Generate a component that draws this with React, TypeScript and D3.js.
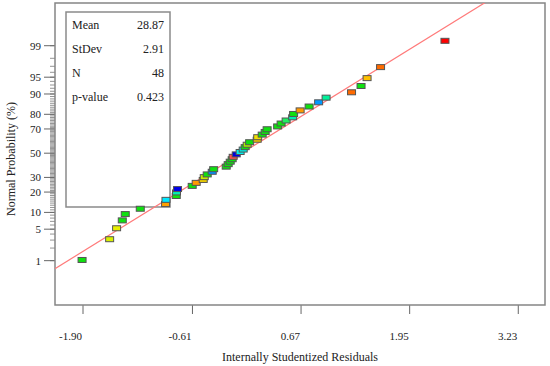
import React from "react";
import * as d3 from "d3";

// residuals (x) in rank order, with the plotted normal probability (%) for each
const residuals = [
  -1.911, -1.586, -1.504, -1.437, -1.402, -1.225, -0.927, -0.922, -0.801, -0.798,
  -0.786, -0.613, -0.566, -0.483, -0.471, -0.436, -0.377, -0.36, -0.212, -0.189,
  -0.165, -0.142, -0.13, -0.094, -0.048, -0.012, 0.011, 0.035, 0.064, 0.153,
  0.159, 0.212, 0.247, 0.27, 0.394, 0.435, 0.494, 0.571, 0.582, 0.659,
  0.765, 0.877, 0.965, 1.265, 1.377, 1.448, 1.607, 2.366,
];
const probabilities = [
  1.04, 3.13, 5.21, 7.29, 9.38, 11.46, 13.54, 15.63, 17.71, 19.79,
  21.88, 23.96, 26.04, 28.13, 30.21, 32.29, 34.38, 36.46, 38.54, 40.63,
  42.71, 44.79, 46.88, 48.96, 51.04, 53.13, 55.21, 57.29, 59.38, 61.46,
  63.54, 65.63, 67.71, 69.79, 71.88, 73.96, 76.04, 78.13, 80.21, 82.29,
  84.38, 86.46, 88.54, 90.63, 92.71, 94.79, 96.88, 99.25,
];
const pointColors = [
  "#10e010", "#d8f000", "#e8f000", "#10e010", "#10e010", "#10e010", "#ffa000", "#00e8ff", "#10e010", "#00f0b0",
  "#0000e8", "#10e010", "#ff9900", "#f0d000", "#c8f000", "#10e010", "#0090ff", "#10e010", "#10e010", "#10e010",
  "#10e010", "#10e010", "#ff5050", "#0000e0", "#00f0f0", "#00e8e0", "#10e010", "#a8f000", "#10e010", "#f0c800",
  "#f0e000", "#10e010", "#10e010", "#10e010", "#10e010", "#10e010", "#20f060", "#00f0b0", "#10e010", "#ff9900",
  "#10e010", "#0099ff", "#00f099", "#ff6a00", "#10e010", "#ffc000", "#ff6a00", "#ff0000",
];

const xTicks = [-1.9, -0.61, 0.67, 1.95, 3.23];
const yLabelTicks = [1, 5, 10, 20, 30, 50, 70, 80, 90, 95, 99];
const yMinorTicks = d3.range(1, 100);

const statLabels = ["Mean", "StDev", "N", "p-value"];
const statValues = ["28.87", "2.91", "48", "0.423"];

// fitted normal line
const fitMean = -0.03;
const fitSd = 0.88;

// inverse normal CDF (Acklam)
function probit(p: number): number {
  const a = [-39.69683028665376, 220.9460984245205, -275.9285104469687, 138.357751867269, -30.66479806614716, 2.506628277459239];
  const b = [-54.47609879822406, 161.5858368580409, -155.6989798598866, 66.80131188771972, -13.28068155288572];
  const c = [-0.007784894002430293, -0.3223964580411365, -2.400758277161838, -2.549732539343734, 4.374664141464968, 2.938163982698783];
  const d = [0.007784695709041462, 0.3224671290700398, 2.445134137142996, 3.754408661907416];
  const plow = 0.02425;
  if (p < plow) {
    const q = Math.sqrt(-2 * Math.log(p));
    return (((((c[0] * q + c[1]) * q + c[2]) * q + c[3]) * q + c[4]) * q + c[5]) /
      ((((d[0] * q + d[1]) * q + d[2]) * q + d[3]) * q + 1);
  }
  if (p <= 1 - plow) {
    const q = p - 0.5;
    const r = q * q;
    return ((((((a[0] * r + a[1]) * r + a[2]) * r + a[3]) * r + a[4]) * r + a[5]) * q) /
      (((((b[0] * r + b[1]) * r + b[2]) * r + b[3]) * r + b[4]) * r + 1);
  }
  const q = Math.sqrt(-2 * Math.log(1 - p));
  return -(((((c[0] * q + c[1]) * q + c[2]) * q + c[3]) * q + c[4]) * q + c[5]) /
    ((((d[0] * q + d[1]) * q + d[2]) * q + d[3]) * q + 1);
}

const width = 550;
const height = 366;
const plot = { left: 55, right: 545, top: 3, bottom: 305 };

const x = d3.scaleLinear().domain([-2.23, 3.545]).range([plot.left, plot.right]);
const z = d3.scaleLinear().domain([-3.286, 3.251]).range([plot.bottom, plot.top]);
const y = (pct: number) => z(probit(pct / 100));

const font = "'Liberation Serif', 'Times New Roman', serif";

export default function App() {
  const xs = x.domain();
  const line = d3.line<number>()
    .x((r) => x(r))
    .y((r) => z((r - fitMean) / fitSd));

  return (
    <svg
      width={width}
      height={height}
      style={{ position: "fixed", left: 0, top: 0, background: "#fff" }}
      fontFamily={font}
    >
      <defs>
        <clipPath id="plotClip">
          <rect x={plot.left} y={plot.top} width={plot.right - plot.left} height={plot.bottom - plot.top} />
        </clipPath>
      </defs>

      {/* y minor ticks */}
      {yMinorTicks.map((p) => (
        <line key={"m" + p} x1={50} x2={plot.left} y1={y(p)} y2={y(p)} stroke="#888" strokeWidth={0.9} />
      ))}
      {yLabelTicks.map((p) => (
        <g key={"y" + p}>
          <line x1={44} x2={plot.left} y1={y(p)} y2={y(p)} stroke="#666" strokeWidth={1} />
          <text x={41} y={y(p)} dy="0.35em" textAnchor="end" fontSize={11} fill="#222">{p}</text>
        </g>
      ))}

      {/* x ticks */}
      {xTicks.map((t) => (
        <g key={"x" + t}>
          <line x1={x(t)} x2={x(t)} y1={plot.bottom} y2={plot.bottom + 9} stroke="#666" strokeWidth={1} />
          <text x={x(t) - 1} y={340} textAnchor="end" fontSize={11} fill="#222">{t.toFixed(2)}</text>
        </g>
      ))}

      {/* frame */}
      <rect x={plot.left} y={plot.top} width={plot.right - plot.left} height={plot.bottom - plot.top}
        fill="none" stroke="#858585" strokeWidth={1.5} />

      {/* stats box */}
      <rect x={66} y={12} width={104} height={195} fill="none" stroke="#8a8a8a" strokeWidth={1.5} />
      {statLabels.map((s, i) => (
        <g key={s}>
          <text x={72} y={29 + i * 24} fontSize={12} fill="#222">{s}</text>
          <text x={164} y={29 + i * 24} fontSize={12} textAnchor="end" fill="#222">{statValues[i]}</text>
        </g>
      ))}

      {/* fit line */}
      <path d={line(xs) ?? ""} stroke="#ff7a7a" strokeWidth={1.2} fill="none" clipPath="url(#plotClip)" />

      {/* points */}
      {residuals.map((r, i) => (
        <rect key={i} x={x(r) - 4} y={y(probabilities[i]) - 2.5} width={8} height={5}
          fill={pointColors[i]} stroke="#555" strokeWidth={1} />
      ))}

      {/* axis titles */}
      <text x={(plot.left + plot.right) / 2} y={361} textAnchor="middle" fontSize={12} fill="#222">
        Internally Studentized Residuals
      </text>
      <text transform={`translate(14.5,159) rotate(-90)`} textAnchor="middle" fontSize={12} fill="#222">
        Normal Probability (%)
      </text>
    </svg>
  );
}
